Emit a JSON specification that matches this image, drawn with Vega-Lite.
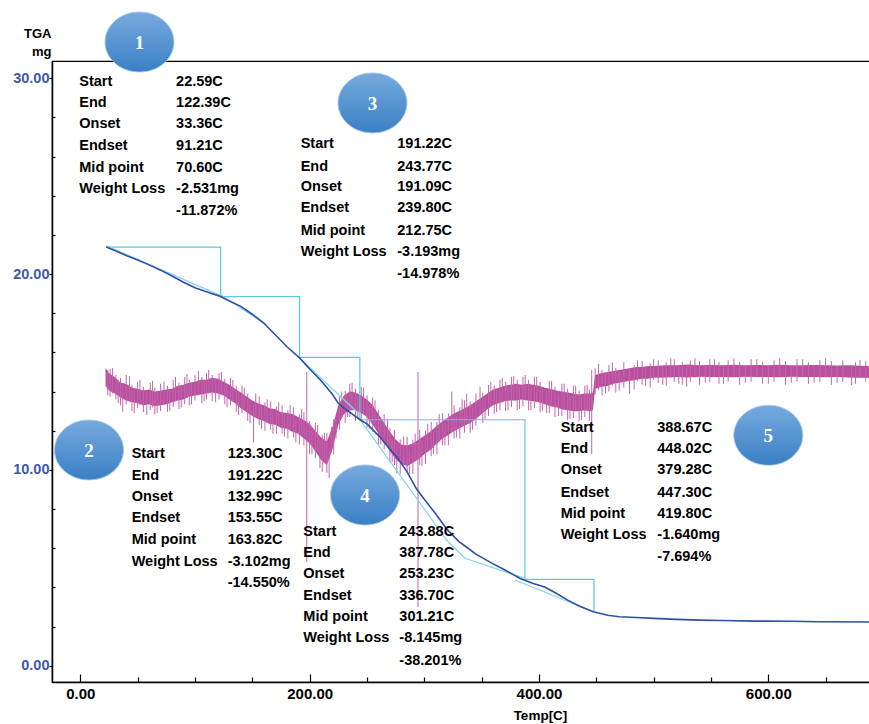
{
  "$schema": "https://vega.github.io/schema/vega-lite/v6.json",
  "autosize": {"type": "none"},
  "width": 818,
  "height": 621,
  "padding": {"left": 52, "top": 61, "right": 0, "bottom": 42},
  "background": "#ffffff",
  "config": {"view": {"stroke": "#000000", "strokeWidth": 1.2}},
  "datasets": {
    "band": [
      {"T":22,"W":14.3,"W2":15.2},{"T":25,"W":14.05,"W2":14.95},{"T":30,"W":13.9,"W2":14.75},{"T":35,"W":13.7,"W2":14.45},{"T":40,"W":13.55,"W2":14.4},{"T":45,"W":13.45,"W2":14.2},{"T":50,"W":13.4,"W2":14.15},{"T":55,"W":13.3,"W2":14.05},{"T":60,"W":13.35,"W2":14.1},{"T":65,"W":13.25,"W2":14.0},{"T":70,"W":13.3,"W2":14.05},{"T":75,"W":13.35,"W2":14.1},{"T":80,"W":13.45,"W2":14.15},{"T":85,"W":13.55,"W2":14.3},{"T":90,"W":13.6,"W2":14.35},{"T":95,"W":13.75,"W2":14.45},{"T":100,"W":13.8,"W2":14.5},{"T":105,"W":13.85,"W2":14.6},{"T":110,"W":13.9,"W2":14.6},{"T":115,"W":13.95,"W2":14.7},{"T":120,"W":13.9,"W2":14.65},{"T":125,"W":13.8,"W2":14.5},{"T":130,"W":13.6,"W2":14.35},{"T":135,"W":13.4,"W2":14.15},{"T":140,"W":13.15,"W2":13.95},{"T":145,"W":12.95,"W2":13.75},{"T":150,"W":12.75,"W2":13.55},{"T":155,"W":12.6,"W2":13.4},{"T":160,"W":12.5,"W2":13.3},{"T":165,"W":12.35,"W2":13.15},{"T":170,"W":12.3,"W2":13.1},{"T":175,"W":12.15,"W2":12.95},{"T":180,"W":12.1,"W2":12.9},{"T":185,"W":11.95,"W2":12.85},{"T":190,"W":11.85,"W2":12.7},{"T":195,"W":11.6,"W2":12.55},{"T":200,"W":11.35,"W2":12.35},{"T":205,"W":10.95,"W2":12.0},{"T":210,"W":10.5,"W2":11.65},{"T":215,"W":10.25,"W2":11.45},{"T":220,"W":11.05,"W2":12.2},{"T":225,"W":12.3,"W2":13.3},{"T":230,"W":12.85,"W2":13.8},{"T":235,"W":13.05,"W2":14.0},{"T":240,"W":13.05,"W2":13.95},{"T":245,"W":12.9,"W2":13.8},{"T":250,"W":12.7,"W2":13.6},{"T":255,"W":12.3,"W2":13.3},{"T":260,"W":11.85,"W2":12.85},{"T":265,"W":11.4,"W2":12.4},{"T":270,"W":10.95,"W2":11.95},{"T":275,"W":10.55,"W2":11.55},{"T":280,"W":10.3,"W2":11.3},{"T":285,"W":10.2,"W2":11.25},{"T":290,"W":10.35,"W2":11.35},{"T":295,"W":10.55,"W2":11.55},{"T":300,"W":10.8,"W2":11.75},{"T":305,"W":11.0,"W2":11.95},{"T":310,"W":11.3,"W2":12.2},{"T":315,"W":11.55,"W2":12.45},{"T":320,"W":11.75,"W2":12.65},{"T":325,"W":11.95,"W2":12.85},{"T":330,"W":12.1,"W2":13.0},{"T":335,"W":12.25,"W2":13.15},{"T":340,"W":12.4,"W2":13.3},{"T":345,"W":12.6,"W2":13.5},{"T":350,"W":12.85,"W2":13.7},{"T":355,"W":13.1,"W2":13.9},{"T":360,"W":13.3,"W2":14.1},{"T":365,"W":13.4,"W2":14.2},{"T":370,"W":13.5,"W2":14.3},{"T":375,"W":13.55,"W2":14.35},{"T":380,"W":13.55,"W2":14.4},{"T":385,"W":13.6,"W2":14.35},{"T":390,"W":13.55,"W2":14.4},{"T":395,"W":13.5,"W2":14.35},{"T":400,"W":13.45,"W2":14.3},{"T":405,"W":13.35,"W2":14.2},{"T":410,"W":13.25,"W2":14.15},{"T":415,"W":13.2,"W2":14.05},{"T":420,"W":13.1,"W2":14.0},{"T":425,"W":13.05,"W2":13.95},{"T":430,"W":13.0,"W2":13.9},{"T":435,"W":13.0,"W2":13.85},{"T":440,"W":13.05,"W2":13.9},{"T":445,"W":13.0,"W2":13.9},{"T":447,"W":13.05,"W2":13.95},{"T":449,"W":14.15,"W2":14.85},{"T":455,"W":14.25,"W2":14.95},{"T":460,"W":14.3,"W2":15.0},{"T":465,"W":14.4,"W2":15.05},{"T":470,"W":14.45,"W2":15.1},{"T":475,"W":14.5,"W2":15.15},{"T":480,"W":14.55,"W2":15.2},{"T":485,"W":14.6,"W2":15.25},{"T":490,"W":14.65,"W2":15.25},{"T":495,"W":14.65,"W2":15.3},{"T":500,"W":14.7,"W2":15.3},{"T":510,"W":14.72,"W2":15.35},{"T":520,"W":14.75,"W2":15.35},{"T":530,"W":14.72,"W2":15.38},{"T":540,"W":14.76,"W2":15.35},{"T":550,"W":14.74,"W2":15.36},{"T":560,"W":14.75,"W2":15.34},{"T":570,"W":14.73,"W2":15.37},{"T":580,"W":14.76,"W2":15.35},{"T":590,"W":14.74,"W2":15.36},{"T":600,"W":14.75,"W2":15.35},{"T":610,"W":14.73,"W2":15.37},{"T":620,"W":14.76,"W2":15.35},{"T":630,"W":14.74,"W2":15.34},{"T":640,"W":14.75,"W2":15.36},{"T":650,"W":14.73,"W2":15.35},{"T":660,"W":14.74,"W2":15.33},{"T":670,"W":14.72,"W2":15.34},{"T":680,"W":14.7,"W2":15.32},{"T":688,"W":14.7,"W2":15.3}
    ],
    "hairs": [
      {"T":24,"W":13.8,"W2":15.1},{"T":28,"W":13.9,"W2":15.2},{"T":33,"W":13.4,"W2":14.6},{"T":37,"W":12.97,"W2":14.3},{"T":43,"W":13.5,"W2":14.8},{"T":47,"W":12.9,"W2":14.1},{"T":52,"W":13.3,"W2":14.6},{"T":58,"W":12.8,"W2":14.0},{"T":63,"W":13.2,"W2":14.55},{"T":67,"W":12.9,"W2":13.95},{"T":73,"W":13.3,"W2":14.5},{"T":78,"W":13.0,"W2":14.1},{"T":83,"W":13.5,"W2":14.75},{"T":88,"W":13.2,"W2":14.3},{"T":93,"W":13.7,"W2":14.9},{"T":97,"W":13.35,"W2":14.4},{"T":103,"W":13.8,"W2":15.05},{"T":108,"W":13.5,"W2":14.6},{"T":112,"W":13.9,"W2":15.1},{"T":118,"W":13.45,"W2":14.65},{"T":123,"W":13.85,"W2":15.0},{"T":128,"W":13.2,"W2":14.35},{"T":133,"W":13.5,"W2":14.6},{"T":138,"W":12.8,"W2":13.95},{"T":143,"W":13.05,"W2":14.2},{"T":148,"W":12.4,"W2":13.55},{"T":151,"W":11.4,"W2":13.4},{"T":153,"W":12.7,"W2":13.9},{"T":158,"W":12.1,"W2":13.25},{"T":163,"W":12.45,"W2":13.6},{"T":168,"W":11.85,"W2":13.0},{"T":173,"W":12.25,"W2":13.45},{"T":178,"W":11.7,"W2":12.85},{"T":183,"W":12.1,"W2":13.3},{"T":188,"W":11.4,"W2":12.6},{"T":193,"W":11.85,"W2":13.1},{"T":197.5,"W":5.3,"W2":15.0},{"T":202,"W":10.8,"W2":12.1},{"T":207,"W":10.95,"W2":12.3},{"T":209,"W":10.1,"W2":11.5},{"T":213,"W":10.5,"W2":11.9},{"T":217,"W":9.6,"W2":11.2},{"T":219,"W":10.9,"W2":12.2},{"T":223,"W":11.6,"W2":12.6},{"T":228,"W":12.7,"W2":14.0},{"T":233,"W":12.7,"W2":13.75},{"T":237,"W":13.1,"W2":14.45},{"T":242,"W":12.6,"W2":13.8},{"T":247,"W":12.85,"W2":14.2},{"T":252,"W":12.1,"W2":13.3},{"T":257,"W":12.2,"W2":13.55},{"T":262,"W":11.3,"W2":12.45},{"T":268,"W":11.2,"W2":12.6},{"T":272,"W":10.4,"W2":11.6},{"T":276,"W":9.84,"W2":11.3},{"T":282,"W":10.3,"W2":11.7},{"T":287,"W":9.8,"W2":11.05},{"T":292,"W":10.45,"W2":11.85},{"T":294.5,"W":3.0,"W2":15.0},{"T":298,"W":10.2,"W2":11.45},{"T":303,"W":10.95,"W2":12.35},{"T":308,"W":10.8,"W2":11.95},{"T":313,"W":11.45,"W2":12.85},{"T":318,"W":11.25,"W2":12.4},{"T":324,"W":11.95,"W2":14.0},{"T":328,"W":11.65,"W2":12.8},{"T":333,"W":12.2,"W2":13.6},{"T":337,"W":12.35,"W2":13.9},{"T":342,"W":12.05,"W2":13.2},{"T":348.6,"W":12.8,"W2":14.25},{"T":353,"W":12.6,"W2":13.7},{"T":358,"W":13.2,"W2":14.5},{"T":363,"W":12.95,"W2":14.05},{"T":368,"W":13.45,"W2":14.7},{"T":373,"W":13.05,"W2":14.2},{"T":378,"W":13.55,"W2":14.8},{"T":383,"W":13.1,"W2":14.25},{"T":388,"W":13.55,"W2":14.85},{"T":393,"W":13.05,"W2":14.25},{"T":398,"W":13.5,"W2":14.75},{"T":403,"W":13.0,"W2":14.1},{"T":406.7,"W":12.9,"W2":14.05},{"T":411,"W":13.25,"W2":14.55},{"T":417,"W":12.75,"W2":13.9},{"T":422,"W":13.1,"W2":14.4},{"T":427,"W":12.6,"W2":13.75},{"T":432,"W":13.0,"W2":14.3},{"T":437,"W":12.55,"W2":13.75},{"T":442,"W":13.0,"W2":14.35},{"T":446,"W":10.8,"W2":15.1},{"T":452,"W":14.1,"W2":15.4},{"T":458,"W":13.9,"W2":14.9},{"T":464,"W":14.3,"W2":15.5},{"T":470,"W":14.05,"W2":15.05},{"T":479,"W":13.9,"W2":15.15},{"T":486,"W":14.55,"W2":15.6},{"T":493,"W":14.3,"W2":15.25},{"T":500,"W":14.6,"W2":15.65},{"T":508,"W":14.35,"W2":15.3},{"T":515,"W":14.7,"W2":15.7},{"T":522,"W":14.4,"W2":15.3},{"T":528.8,"W":14.25,"W2":15.35},{"T":536,"W":14.7,"W2":15.7},{"T":545,"W":14.45,"W2":15.3},{"T":553,"W":14.75,"W2":15.65},{"T":561,"W":14.4,"W2":15.3},{"T":570,"W":14.75,"W2":15.7},{"T":580,"W":14.45,"W2":15.3},{"T":590,"W":14.75,"W2":15.65},{"T":600,"W":14.4,"W2":15.3},{"T":610,"W":14.75,"W2":15.7},{"T":620,"W":14.45,"W2":15.3},{"T":630,"W":14.75,"W2":15.65},{"T":640,"W":14.45,"W2":15.3},{"T":650,"W":14.75,"W2":15.7},{"T":660,"W":14.45,"W2":15.3},{"T":672.7,"W":14.33,"W2":15.3},{"T":680,"W":14.7,"W2":15.6},
      {"T":26,"W":13.75,"W2":15.15},{"T":31,"W":13.6,"W2":14.85},{"T":35,"W":13.3,"W2":14.7},{"T":40,"W":13.35,"W2":14.85},{"T":45,"W":13.0,"W2":14.35},{"T":50,"W":13.15,"W2":14.5},{"T":55,"W":12.95,"W2":14.25},{"T":61,"W":13.05,"W2":14.45},{"T":65,"W":12.85,"W2":14.2},{"T":70,"W":13.0,"W2":14.4},{"T":76,"W":12.95,"W2":14.3},{"T":81,"W":13.2,"W2":14.6},{"T":86,"W":13.1,"W2":14.45},{"T":91,"W":13.35,"W2":14.75},{"T":95,"W":13.3,"W2":14.6},{"T":100,"W":13.55,"W2":14.85},{"T":106,"W":13.4,"W2":14.75},{"T":110,"W":13.6,"W2":14.95},{"T":115,"W":13.5,"W2":14.85},{"T":121,"W":13.6,"W2":14.95},{"T":126,"W":13.35,"W2":14.65},{"T":131,"W":13.3,"W2":14.7},{"T":136,"W":12.95,"W2":14.3},{"T":141,"W":12.9,"W2":14.3},{"T":146,"W":12.5,"W2":13.9},{"T":156,"W":12.3,"W2":13.75},{"T":161,"W":12.0,"W2":13.45},{"T":166,"W":12.05,"W2":13.5},{"T":171,"W":11.85,"W2":13.25},{"T":176,"W":11.85,"W2":13.3},{"T":181,"W":11.6,"W2":13.05},{"T":186,"W":11.65,"W2":13.2},{"T":191,"W":11.3,"W2":12.85},{"T":195,"W":11.25,"W2":12.95},{"T":200,"W":10.8,"W2":12.5},{"T":205,"W":10.6,"W2":12.4},{"T":211,"W":9.9,"W2":11.8},{"T":215,"W":9.85,"W2":11.9},{"T":221,"W":10.8,"W2":12.6},{"T":226,"W":12.05,"W2":13.8},{"T":231,"W":12.4,"W2":14.05},{"T":235,"W":12.7,"W2":14.4},{"T":240,"W":12.5,"W2":14.15},{"T":245,"W":12.55,"W2":14.25},{"T":250,"W":12.15,"W2":13.8},{"T":255,"W":11.95,"W2":13.7},{"T":260,"W":11.3,"W2":13.05},{"T":265,"W":11.05,"W2":12.85},{"T":270,"W":10.4,"W2":12.15},{"T":274,"W":10.25,"W2":12.05},{"T":279,"W":9.8,"W2":11.55},{"T":285,"W":9.85,"W2":11.7},{"T":290,"W":9.8,"W2":11.55},{"T":296,"W":10.25,"W2":12.05},{"T":301,"W":10.3,"W2":12.0},{"T":306,"W":10.7,"W2":12.45},{"T":311,"W":10.8,"W2":12.45},{"T":316,"W":11.25,"W2":12.9},{"T":321,"W":11.25,"W2":12.9},{"T":326,"W":11.6,"W2":13.3},{"T":331,"W":11.6,"W2":13.2},{"T":335,"W":11.9,"W2":13.55},{"T":340,"W":11.9,"W2":13.5},{"T":345,"W":12.25,"W2":13.9},{"T":351,"W":12.4,"W2":13.95},{"T":356,"W":12.75,"W2":14.35},{"T":361,"W":12.85,"W2":14.3},{"T":366,"W":13.05,"W2":14.6},{"T":371,"W":13.0,"W2":14.5},{"T":376,"W":13.2,"W2":14.75},{"T":381,"W":13.05,"W2":14.6},{"T":386,"W":13.25,"W2":14.75},{"T":391,"W":13.05,"W2":14.6},{"T":396,"W":13.15,"W2":14.75},{"T":401,"W":12.95,"W2":14.5},{"T":409,"W":12.9,"W2":14.55},{"T":414,"W":12.7,"W2":14.25},{"T":420,"W":12.75,"W2":14.4},{"T":425,"W":12.55,"W2":14.15},{"T":430,"W":12.65,"W2":14.3},{"T":435,"W":12.5,"W2":14.05},{"T":440,"W":12.7,"W2":14.3},{"T":444,"W":12.5,"W2":14.1},{"T":449,"W":13.85,"W2":15.2},{"T":455,"W":13.8,"W2":15.1},{"T":461,"W":14.0,"W2":15.35},{"T":467,"W":13.95,"W2":15.2},{"T":474,"W":14.2,"W2":15.5},{"T":483,"W":14.1,"W2":15.35},{"T":490,"W":14.35,"W2":15.55},{"T":497,"W":14.2,"W2":15.45},{"T":504,"W":14.45,"W2":15.6},{"T":511,"W":14.3,"W2":15.5},{"T":518,"W":14.5,"W2":15.65},{"T":525,"W":14.35,"W2":15.5},{"T":532,"W":14.5,"W2":15.6},{"T":540,"W":14.35,"W2":15.55},{"T":549,"W":14.5,"W2":15.65},{"T":557,"W":14.4,"W2":15.5},{"T":565,"W":14.5,"W2":15.6},{"T":575,"W":14.35,"W2":15.5},{"T":585,"W":14.5,"W2":15.65},{"T":595,"W":14.4,"W2":15.5},{"T":605,"W":14.5,"W2":15.6},{"T":615,"W":14.35,"W2":15.55},{"T":625,"W":14.5,"W2":15.65},{"T":635,"W":14.4,"W2":15.5},{"T":645,"W":14.5,"W2":15.6},{"T":655,"W":14.35,"W2":15.55},{"T":665,"W":14.5,"W2":15.6},{"T":676,"W":14.4,"W2":15.5},{"T":685,"W":14.5,"W2":15.55}
    ],
    "steps": [
      {"o":1,"T":22.6,"W":21.38},{"o":2,"T":122.39,"W":21.38},{"o":3,"T":122.39,"W":18.85},{"o":4,"T":191.22,"W":18.85},{"o":5,"T":191.22,"W":15.75},{"o":6,"T":243.77,"W":15.75},{"o":7,"T":243.77,"W":12.56},{"o":8,"T":387.78,"W":12.56},{"o":9,"T":387.78,"W":4.41},{"o":10,"T":448.02,"W":4.41},{"o":11,"T":448.02,"W":2.77}
    ],
    "tangents": [
      {"seg":"a","o":1,"T":22.6,"W":21.45},{"seg":"a","o":2,"T":122.4,"W":18.9},
      {"seg":"b","o":1,"T":122.7,"W":18.93},{"seg":"b","o":2,"T":162.5,"W":17.4},
      {"seg":"c","o":1,"T":191,"W":15.73},{"seg":"c","o":2,"T":241,"W":12.97},
      {"seg":"d","o":1,"T":244,"W":12.55},{"seg":"d","o":2,"T":319.5,"W":6.42},{"seg":"d","o":3,"T":335.5,"W":5.49},
      {"seg":"e","o":1,"T":335.5,"W":5.49},{"seg":"e","o":2,"T":387.6,"W":4.46},
      {"seg":"f","o":1,"T":379,"W":4.38},{"seg":"f","o":2,"T":447.4,"W":2.76}
    ],
    "tg": [
      {"T":22.6,"W":21.38},{"T":30,"W":21.2},{"T":40,"W":20.95},{"T":50,"W":20.72},{"T":60,"W":20.47},{"T":70,"W":20.2},{"T":80,"W":19.9},{"T":90,"W":19.58},{"T":100,"W":19.3},{"T":110,"W":19.1},{"T":122.4,"W":18.85},{"T":130,"W":18.62},{"T":140,"W":18.35},{"T":150,"W":17.95},{"T":160,"W":17.5},{"T":170,"W":16.9},{"T":180,"W":16.3},{"T":191.2,"W":15.72},{"T":200,"W":15.15},{"T":210,"W":14.55},{"T":220,"W":13.85},{"T":225,"W":13.4},{"T":230,"W":13.15},{"T":244,"W":12.56},{"T":250,"W":12.35},{"T":261,"W":11.7},{"T":270,"W":11.05},{"T":276,"W":10.67},{"T":285,"W":9.9},{"T":293,"W":9.05},{"T":300,"W":8.5},{"T":310,"W":7.75},{"T":320,"W":6.95},{"T":330,"W":6.35},{"T":337,"W":6.05},{"T":345,"W":5.7},{"T":360,"W":5.2},{"T":370,"W":4.9},{"T":383.5,"W":4.46},{"T":395,"W":4.2},{"T":405,"W":4.02},{"T":415,"W":3.7},{"T":425,"W":3.35},{"T":435,"W":3.05},{"T":447.4,"W":2.76},{"T":460,"W":2.58},{"T":470,"W":2.5},{"T":485,"W":2.46},{"T":500,"W":2.42},{"T":520,"W":2.37},{"T":540,"W":2.33},{"T":560,"W":2.31},{"T":587,"W":2.28},{"T":620,"W":2.27},{"T":645,"W":2.25},{"T":688,"W":2.23}
    ],
    "badges": [
      {"T":51.6,"W":31.85,"n":"1"},{"T":7.6,"W":11.02,"n":"2"},{"T":254.8,"W":28.74,"n":"3"},{"T":248.3,"W":8.72,"n":"4"},{"T":600,"W":11.77,"n":"5"}
    ],
    "notes": [
      {"T":-0.9,"W":29.83,"s":"Start"},{"T":83.5,"W":29.83,"s":"22.59C"},
      {"T":-0.9,"W":28.73,"s":"End"},{"T":83.5,"W":28.73,"s":"122.39C"},
      {"T":-0.9,"W":27.64,"s":"Onset"},{"T":83.5,"W":27.64,"s":"33.36C"},
      {"T":-0.9,"W":26.54,"s":"Endset"},{"T":83.5,"W":26.54,"s":"91.21C"},
      {"T":-0.9,"W":25.44,"s":"Mid point"},{"T":83.5,"W":25.44,"s":"70.60C"},
      {"T":-0.9,"W":24.34,"s":"Weight Loss"},{"T":83.5,"W":24.34,"s":"-2.531mg"},
      {"T":83.5,"W":23.24,"s":"-11.872%"},
      {"T":44.8,"W":10.81,"s":"Start"},{"T":128.5,"W":10.81,"s":"123.30C"},
      {"T":44.8,"W":9.70,"s":"End"},{"T":128.5,"W":9.70,"s":"191.22C"},
      {"T":44.8,"W":8.63,"s":"Onset"},{"T":128.5,"W":8.63,"s":"132.99C"},
      {"T":44.8,"W":7.56,"s":"Endset"},{"T":128.5,"W":7.56,"s":"153.55C"},
      {"T":44.8,"W":6.42,"s":"Mid point"},{"T":128.5,"W":6.42,"s":"163.82C"},
      {"T":44.8,"W":5.28,"s":"Weight Loss"},{"T":128.5,"W":5.28,"s":"-3.102mg"},
      {"T":128.5,"W":4.21,"s":"-14.550%"},
      {"T":192.2,"W":26.64,"s":"Start"},{"T":276.4,"W":26.64,"s":"191.22C"},
      {"T":192.2,"W":25.49,"s":"End"},{"T":276.4,"W":25.49,"s":"243.77C"},
      {"T":192.2,"W":24.43,"s":"Onset"},{"T":276.4,"W":24.43,"s":"191.09C"},
      {"T":192.2,"W":23.36,"s":"Endset"},{"T":276.4,"W":23.36,"s":"239.80C"},
      {"T":192.2,"W":22.22,"s":"Mid point"},{"T":276.4,"W":22.22,"s":"212.75C"},
      {"T":192.2,"W":21.11,"s":"Weight Loss"},{"T":276.4,"W":21.11,"s":"-3.193mg"},
      {"T":276.4,"W":20.0,"s":"-14.978%"},
      {"T":194.5,"W":6.84,"s":"Start"},{"T":278.2,"W":6.84,"s":"243.88C"},
      {"T":194.5,"W":5.74,"s":"End"},{"T":278.2,"W":5.74,"s":"387.78C"},
      {"T":194.5,"W":4.68,"s":"Onset"},{"T":278.2,"W":4.68,"s":"253.23C"},
      {"T":194.5,"W":3.56,"s":"Endset"},{"T":278.2,"W":3.56,"s":"336.70C"},
      {"T":194.5,"W":2.50,"s":"Mid point"},{"T":278.2,"W":2.50,"s":"301.21C"},
      {"T":194.5,"W":1.40,"s":"Weight Loss"},{"T":278.2,"W":1.40,"s":"-8.145mg"},
      {"T":278.2,"W":0.26,"s":"-38.201%"},
      {"T":418.9,"W":12.12,"s":"Start"},{"T":503.2,"W":12.12,"s":"388.67C"},
      {"T":418.9,"W":11.07,"s":"End"},{"T":503.2,"W":11.07,"s":"448.02C"},
      {"T":418.9,"W":9.99,"s":"Onset"},{"T":503.2,"W":9.99,"s":"379.28C"},
      {"T":418.9,"W":8.84,"s":"Endset"},{"T":503.2,"W":8.84,"s":"447.30C"},
      {"T":418.9,"W":7.75,"s":"Mid point"},{"T":503.2,"W":7.75,"s":"419.80C"},
      {"T":418.9,"W":6.68,"s":"Weight Loss"},{"T":503.2,"W":6.68,"s":"-1.640mg"},
      {"T":503.2,"W":5.57,"s":"-7.694%"}
    ]
  },
  "encoding": {
    "x": {
      "field": "T", "type": "quantitative",
      "scale": {"domain": [-24.7, 688.7], "nice": false, "zero": false},
      "axis": {
        "values": [0,50,100,150,200,250,300,350,400,450,500,550,600,650],
        "labelExpr": "datum.value % 200 === 0 ? format(datum.value, '.2f') : ''",
        "grid": false, "labelOverlap": false, "labelFlush": false,
        "domainColor": "#000000", "domainWidth": 1.5,
        "tickColor": "#000000", "tickWidth": 1.2,
        "tickSize": {"condition": {"test": "datum.value % 200 === 0", "value": -8}, "value": -5},
        "labelFont": "Liberation Sans", "labelFontWeight": "bold", "labelFontSize": 15, "labelColor": "#000000", "labelPadding": 12,
        "title": "Temp[C]", "titleFont": "Liberation Sans", "titleFontWeight": "bold", "titleFontSize": 13.5, "titleColor": "#000000",
        "titleX": 488, "titleY": 33, "titleAlign": "center", "titleBaseline": "middle"
      }
    },
    "y": {
      "field": "W", "type": "quantitative",
      "scale": {"domain": [-0.83, 30.88], "nice": false, "zero": false},
      "axis": {
        "values": [0,2,4,6,8,10,12,14,16,18,20,22,24,26,28,30],
        "labelExpr": "datum.value % 10 === 0 ? format(datum.value, '.2f') : ''",
        "grid": false, "labelOverlap": false, "labelFlush": false,
        "domainColor": "#000000", "domainWidth": 1.5,
        "tickColor": "#000000", "tickWidth": 1.2,
        "tickSize": {"condition": {"test": "datum.value % 10 === 0", "value": 3}, "value": -3},
        "labelFont": "Liberation Sans", "labelFontWeight": "bold", "labelFontSize": 14.5, "labelColor": "#3d5aa8", "labelPadding": 0,
        "title": ["TGA", "mg"], "titleFont": "Liberation Sans", "titleFontWeight": "bold", "titleFontSize": 13, "titleColor": "#000000",
        "titleAngle": 0, "titleAlign": "right", "titleBaseline": "middle", "titleX": -1, "titleY": -28, "titleLineHeight": 18
      }
    }
  },
  "layer": [
    {"data": {"name": "band"}, "mark": {"type": "area", "color": "#b9509f", "opacity": 1}, "encoding": {"y2": {"field": "W2"}}},
    {"data": {"name": "hairs"}, "mark": {"type": "rule", "color": "#c265ab", "strokeWidth": 1}, "encoding": {"y2": {"field": "W2"}}},
    {"data": {"name": "steps"}, "mark": {"type": "line", "color": "#5cc8de", "strokeWidth": 1.2}, "encoding": {"order": {"field": "o", "type": "quantitative"}}},
    {"data": {"name": "tangents"}, "mark": {"type": "line", "color": "#7fd6e8", "strokeWidth": 1.2}, "encoding": {"detail": {"field": "seg"}, "order": {"field": "o", "type": "quantitative"}}},
    {"data": {"name": "tg"}, "mark": {"type": "line", "color": "#2e4fa6", "strokeWidth": 1.6}},
    {"data": {"name": "badges"}, "mark": {"type": "point", "filled": true, "opacity": 1, "size": 4761,
      "shape": "M-1,0A1,0.87,0,1,0,1,0A1,0.87,0,1,0,-1,0Z",
      "fill": {"gradient": "linear", "x1": 0, "y1": 0, "x2": 0, "y2": 1, "stops": [{"offset": 0, "color": "#77aade"}, {"offset": 1, "color": "#3a80c5"}]},
      "stroke": "#a9c9ea", "strokeWidth": 0.8}},
    {"data": {"name": "badges"}, "mark": {"type": "text", "font": "Liberation Serif", "fontWeight": "bold", "fontSize": 19, "color": "#ffffff", "align": "center", "baseline": "middle", "dy": 1}, "encoding": {"text": {"field": "n"}}},
    {"data": {"name": "notes"}, "mark": {"type": "text", "font": "Liberation Sans", "fontWeight": "bold", "fontSize": 14.5, "color": "#000000", "align": "left", "baseline": "middle"}, "encoding": {"text": {"field": "s"}}}
  ]
}
